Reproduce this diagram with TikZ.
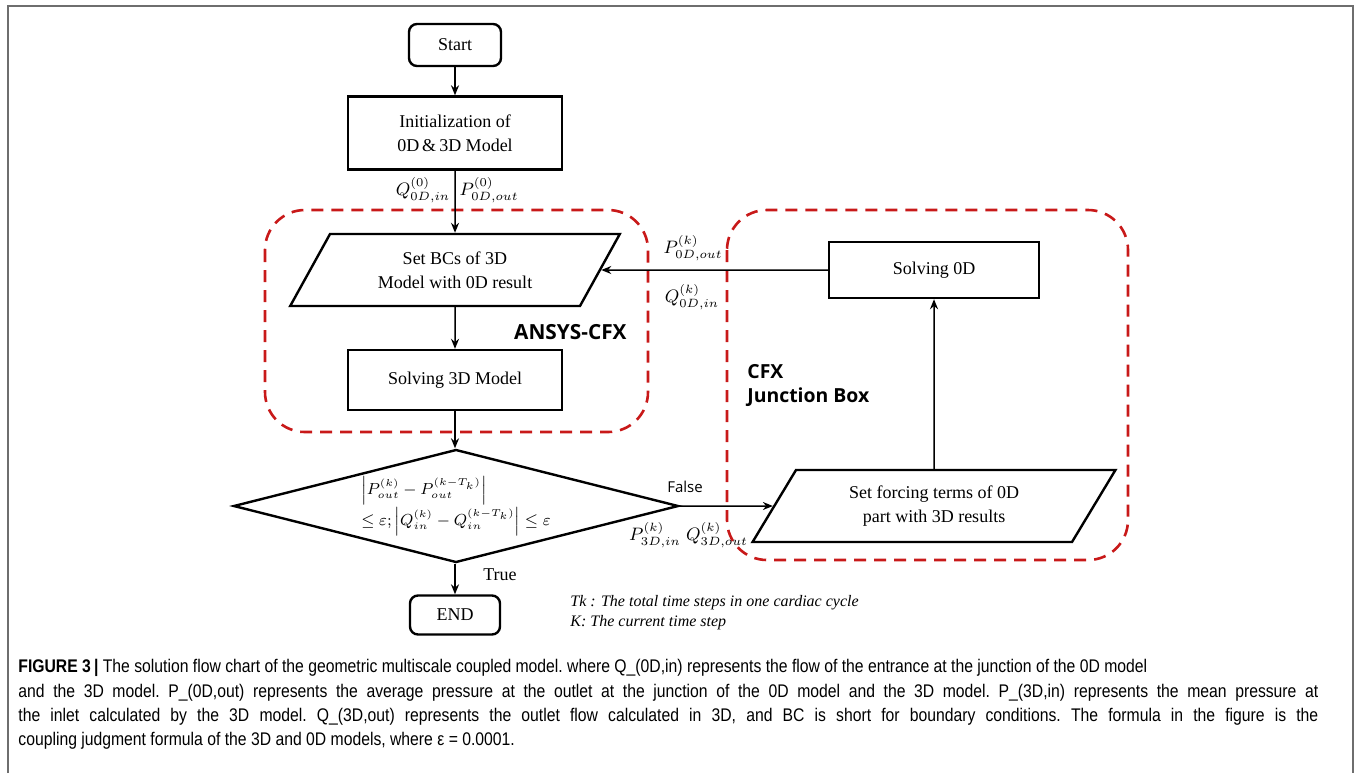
\documentclass[tikz,border=0pt]{standalone}
\usepackage{amsmath}
\usepackage{amssymb}
\usepackage{fontspec}
\setmainfont{Liberation Serif}
\newfontfamily\capfont[FakeStretch=0.86]{Liberation Sans}
\newfontfamily\lblfont{Open Sans}
\usetikzlibrary{shapes.geometric,arrows.meta}
\definecolor{cfxred}{RGB}{200,25,25}
\definecolor{framegray}{RGB}{110,110,110}

\begin{document}
\begin{tikzpicture}[x=0.5pt, y=-0.5pt,
	every node/.style={font=\fontsize{9}{12}\selectfont},
	box/.style={rectangle, draw=black, line width=1.2pt, align=center, inner sep=2pt},
	term/.style={box, rounded corners=4pt},
	io/.style={trapezium, trapezium left angle=60, trapezium right angle=120, trapezium stretches=true, draw=black, line width=1.2pt, align=center, inner sep=2pt},
	test/.style={diamond, draw=black, line width=1.2pt, align=left, inner sep=0pt, aspect=3.94, font=\fontsize{7.8}{11.5}\selectfont},
	region/.style={draw=cfxred, line width=1.3pt, dash pattern=on 6pt off 4pt, rounded corners=20pt},
	flow/.style={->, line width=0.75pt},
	lbl/.style={inner sep=0pt},
	captionline/.style={inner sep=0pt, anchor=west, font=\capfont\fontsize{9.15}{10}\selectfont\frenchspacing},
	>={Stealth[length=5pt,width=4pt]}]
			\useasboundingbox (0,0) rectangle (1354,773);
			\draw[framegray, line width=1pt] (8,773) -- (8,6) -- (1352.5,6) -- (1352.5,773);
			
			\draw[region] (265,210) rectangle (648,432);
			\draw[region] (727,210) rectangle (1128,560);
			
			\node[term, minimum width=46pt, minimum height=21pt] (start) at (455,45){Start};
			\node[box, minimum width=107pt, minimum height=36.5pt] (init) at (455,133){Initialization of\\0D\,\&\,3D Model};
			\node[io, minimum width=165pt, minimum height=36pt] (setbc) at (455,270){Set BCs of 3D\\Model with 0D result};
			\node[box, minimum width=107pt, minimum height=30pt] (solve3d) at (455,380){Solving 3D Model};
			\node[test, minimum width=222.5pt, minimum height=56.5pt] (check) at (456,506){$\Bigl|P_{out}^{(k)}-P_{out}^{(k-T_k)}\Bigr|$\\$\le\varepsilon;\Bigl|Q_{in}^{(k)}-Q_{in}^{(k-T_k)}\Bigr|\le\varepsilon$};
			\node[term, minimum width=45pt, minimum height=19.5pt] (stop) at (455,615){END};
			\node[io, minimum width=181.5pt, minimum height=36pt] (forcing) at (934,506){Set forcing terms of 0D\\part with 3D results};
			\node[box, minimum width=105pt, minimum height=28pt] (solve0d) at (934,270){Solving 0D};
			
			% labels on the connectors
			\node[lbl] (q0in) at (423,190){$Q_{0D,in}^{(0)}$};
			\node[lbl] (p0out) at (489,190){$P_{0D,out}^{(0)}$};
			\node[lbl] (pkout) at (693,248){$P_{0D,out}^{(k)}$};
			\node[lbl] (qkin) at (692,297){$Q_{0D,in}^{(k)}$};
			\node[lbl, font=\lblfont\fontsize{7.5}{9}\selectfont] (false) at (685,487){False};
			\node[lbl] (p3din) at (655,535){$P_{3D,in}^{(k)}$};
			\node[lbl] (q3dout) at (717,535){$Q_{3D,out}^{(k)}$};
			\node[lbl] (true) at (500,575){True};
			
			\node[lbl, anchor=east, font=\lblfont\bfseries\fontsize{10.4}{12}\selectfont] (ansys) at (627,332){ANSYS-CFX};
			\node[lbl, anchor=west, align=left, font=\lblfont\bfseries\fontsize{9.7}{12}\selectfont] (junction) at (747,385){CFX\\Junction Box};
			\node[lbl, anchor=west, align=left, font=\itshape\fontsize{8}{10}\selectfont] (notes) at (570,613){Tk : The total time steps in one cardiac cycle\\K: The current time step};
			
			\draw[flow] (start) -- (init);
			\draw[flow] (init) -- (setbc);
			\draw[flow] (setbc) -- (solve3d);
			\draw[flow] (solve3d) -- (solve3d |- check.north);
			\draw[flow] (stop |- check.south) -- (stop);
			\draw[flow] (check) -- (forcing);
			\draw[flow] (forcing) -- (solve0d);
			\draw[flow] (solve0d) -- (setbc);
			
			% caption
			\node[captionline] (cap1) at (18,668){\textbf{FIGURE 3\,|} The solution flow chart of the geometric multiscale coupled model. where Q\_(0D,in) represents the flow of the entrance at the junction of the 0D model};
			\node[captionline] (cap2) at (18,693){\makebox[650pt][s]{and the 3D model. P\_(0D,out) represents the average pressure at the outlet at the junction of the 0D model and the 3D model. P\_(3D,in) represents the mean pressure at}};
			\node[captionline] (cap3) at (18,717){\makebox[650pt][s]{the inlet calculated by the 3D model. Q\_(3D,out) represents the outlet flow calculated in 3D, and BC is short for boundary conditions. The formula in the figure is the}};
			\node[captionline] (cap4) at (18,741){coupling judgment formula of the 3D and 0D models, where ε = 0.0001.};
			\end{tikzpicture}
\end{document}
